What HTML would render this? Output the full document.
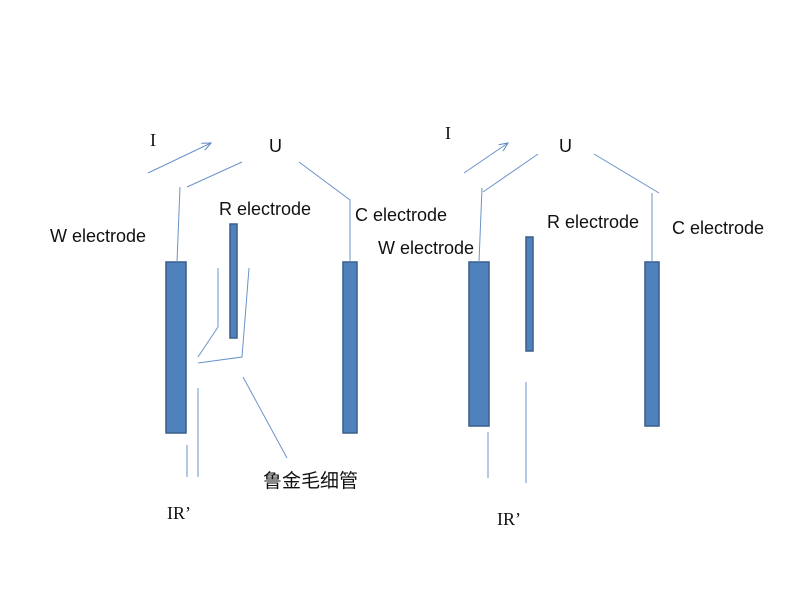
<!DOCTYPE html>
<html><head><meta charset="utf-8"><style>html,body{margin:0;padding:0;background:#fff}svg{display:block}</style></head>
<body>
<svg width="800" height="600" xmlns="http://www.w3.org/2000/svg">
<defs><marker id="a" markerWidth="10" markerHeight="8" refX="9" refY="4" orient="auto" markerUnits="userSpaceOnUse"><path d="M0,0 L9,4 L0,8" fill="none" stroke="#5a86c0" stroke-width="1"/></marker></defs>
<g fill="#4f81bd" stroke="#385d8a" stroke-width="1.5">
<rect x="166" y="262" width="20" height="171"/>
<rect x="230" y="224" width="7" height="114"/>
<rect x="343" y="262" width="14" height="171"/>
<rect x="469" y="262" width="20" height="164"/>
<rect x="526" y="237" width="7" height="114"/>
<rect x="645" y="262" width="14" height="164"/>
</g>
<g stroke="#6a93c8" stroke-width="1" fill="none">
<line x1="148" y1="173" x2="211" y2="143" marker-end="url(#a)"/>
<polyline points="177,262 180,187"/>
<line x1="187" y1="187" x2="242" y2="162"/>
<polyline points="299,162 350,200 350,262"/>
<polyline points="218,268 218,327 198,357"/>
<polyline points="198,363 242,357 249,268"/>
<line x1="243" y1="377" x2="287" y2="458"/>
<line x1="187" y1="445" x2="187" y2="477"/>
<line x1="198" y1="388" x2="198" y2="477"/>
<line x1="464" y1="173" x2="508" y2="143" marker-end="url(#a)"/>
<polyline points="479,262 482,188"/>
<line x1="483" y1="192" x2="538" y2="154"/>
<line x1="594" y1="154" x2="659" y2="193"/>
<line x1="652" y1="193" x2="652" y2="262"/>
<line x1="488" y1="432" x2="488" y2="478"/>
<line x1="526" y1="382" x2="526" y2="483"/>
</g>
<g font-family="Liberation Sans, sans-serif" font-size="18" fill="#111">
<text x="50" y="242">W electrode</text>
<text x="219" y="215">R electrode</text>
<text x="355" y="221">C electrode</text>
<text x="269" y="152">U</text>
<text x="378" y="254">W electrode</text>
<text x="547" y="228">R electrode</text>
<text x="672" y="234">C electrode</text>
<text x="559" y="152">U</text>
<text x="263" y="487" font-family="Liberation Sans, Noto Sans CJK SC, sans-serif" font-size="19">鲁金毛细管</text>
</g>
<g font-family="Liberation Serif, serif" font-size="18" fill="#111">
<text x="150" y="146">I</text>
<text x="445" y="139">I</text>
<text x="167" y="519">IR’</text>
<text x="497" y="525">IR’</text>
</g>
</svg>
</body></html>
